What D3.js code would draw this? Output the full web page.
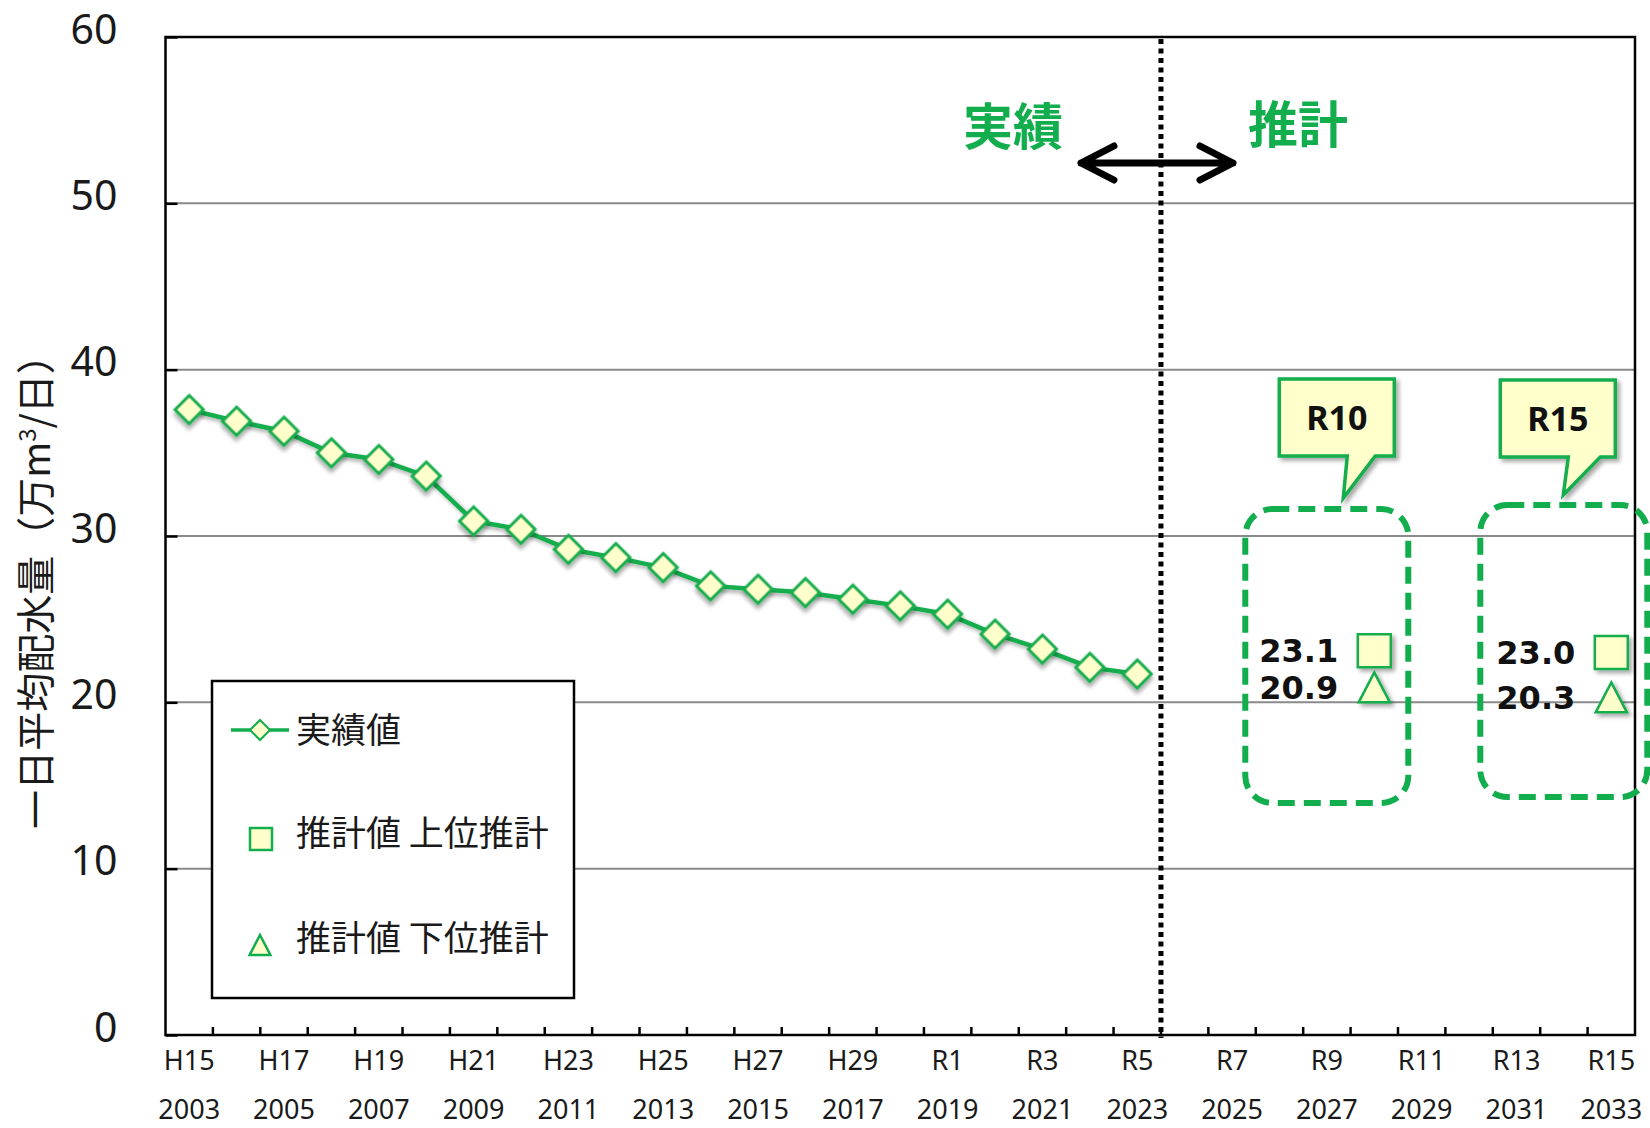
<!DOCTYPE html>
<html><head><meta charset="utf-8">
<script src="https://cdn.jsdelivr.net/npm/d3@7"></script>
<style>body{margin:0;background:#fff;} svg{display:block;}</style>
</head><body>
<svg id="chart" width="1650" height="1128"></svg>
<script>
// ---------- data ----------
const years = [2003,2004,2005,2006,2007,2008,2009,2010,2011,2012,2013,2014,2015,2016,2017,2018,2019,2020,2021,2022,2023,2024,2025,2026,2027,2028,2029,2030,2031,2032,2033];
const actualYears = [2003,2004,2005,2006,2007,2008,2009,2010,2011,2012,2013,2014,2015,2016,2017,2018,2019,2020,2021,2022,2023];
const actualValues = [37.6,36.9,36.3,35.0,34.6,33.6,30.9,30.4,29.2,28.7,28.1,27.0,26.8,26.6,26.2,25.8,25.3,24.1,23.2,22.1,21.7];
const forecastYears = [2028, 2033];
const forecastNames = ["R10", "R15"];
const upperValues = [23.1, 23.0];
const lowerValues = [20.9, 20.3];
const upperLabels = ["23.1", "23.0"];
const lowerLabels = ["20.9", "20.3"];
const labelYears = [2003,2005,2007,2009,2011,2013,2015,2017,2019,2021,2023,2025,2027,2029,2031,2033];
const eraLabels = ["H15","H17","H19","H21","H23","H25","H27","H29","R1","R3","R5","R7","R9","R11","R13","R15"];
const yTicks = [0,10,20,30,40,50,60];
const gridTicks = [10,20,30,40,50];
const legendItems = ["実績値", "推計値 上位推計", "推計値 下位推計"];

// ---------- layout ----------
const GREEN = "#12AD4D", FILL = "#FFFFCC";
const M = {left:165.5, right:1635, top:37, bottom:1035};
const svg = d3.select("#chart");
const x = d3.scaleBand().domain(years).range([M.left, M.right]);
const y = d3.scaleLinear().domain([0,60]).range([M.bottom, M.top]);
const xc = d => x(d) + x.bandwidth()/2;

const defs = svg.append("defs");
const f = defs.append("filter").attr("id","sh").attr("x","-30%").attr("y","-30%").attr("width","170%").attr("height","170%");
f.append("feDropShadow").attr("dx",3).attr("dy",3).attr("stdDeviation",2.2).attr("flood-color","#000").attr("flood-opacity",0.35);

// gridlines
svg.append("g").selectAll("line").data(gridTicks).join("line")
  .attr("x1", M.left).attr("x2", M.right)
  .attr("y1", d=>y(d)).attr("y2", d=>y(d))
  .attr("stroke","#8a8a8a").attr("stroke-width",2);

// y axis
const ya = svg.append("g").attr("transform",`translate(${M.left},0)`)
  .call(d3.axisLeft(y).tickValues(yTicks).tickSize(-12).tickPadding(48));
ya.select(".domain").remove();
ya.selectAll("line").attr("stroke","#000").attr("stroke-width",2.5);
ya.selectAll("text").attr("font-family","'Noto Sans', sans-serif").attr("font-size",41)
  .attr("fill","#1a1a1a").attr("dy","0.15em");

// plot border
svg.append("rect").attr("x",M.left).attr("y",M.top)
  .attr("width",M.right-M.left).attr("height",M.bottom-M.top)
  .attr("fill","none").attr("stroke","#000").attr("stroke-width",2.5);

// x ticks
svg.append("g").selectAll("line").data(years.slice(1)).join("line")
  .attr("x1",d=>x(d)).attr("x2",d=>x(d))
  .attr("y1",M.bottom).attr("y2",M.bottom-8)
  .attr("stroke","#000").attr("stroke-width",2.5);

// x labels
const xl = svg.append("g").attr("font-family","'Noto Sans', sans-serif").attr("font-size",27)
  .attr("fill","#1a1a1a").attr("text-anchor","middle");
xl.selectAll("text.era").data(labelYears).join("text").attr("class","era")
  .attr("x",d=>xc(d)).attr("y",1070).text((d,i)=>eraLabels[i]);
xl.selectAll("text.yr").data(labelYears).join("text").attr("class","yr")
  .attr("x",d=>xc(d)).attr("y",1119).text(d=>d);

// y axis title
const yt = svg.append("text").attr("transform","translate(36,582) rotate(-90)")
  .attr("text-anchor","middle").attr("dy","0.35em")
  .attr("font-family","'Noto Sans CJK JP', sans-serif").attr("font-size",39).attr("fill","#1a1a1a");
yt.append("tspan").text("一日平均配水量（万m");
yt.append("tspan").attr("font-size",24).attr("dy",-14).text("3");
yt.append("tspan").attr("dy",14).text("/日）");

// divider
svg.append("line").attr("x1",x(2024)).attr("x2",x(2024))
  .attr("y1",M.top+2).attr("y2",M.bottom+3)
  .attr("stroke","#000").attr("stroke-width",5).attr("stroke-dasharray","5,4.5");

// 実績 / 推計 headers and arrow
const hd = svg.append("g").attr("font-family","'Noto Sans CJK JP', sans-serif").attr("font-weight",700)
  .attr("font-size",50).attr("fill",GREEN).attr("text-anchor","middle");
hd.append("text").attr("x",x(2024)-148).attr("y",145).text("実績");
hd.append("text").attr("x",x(2024)+137).attr("y",143).text("推計");
const ax0 = x(2024)-80, ax1 = x(2024)+72, ay = 163;
svg.append("path")
  .attr("d",`M${ax0},${ay}L${ax1},${ay}M${ax0+33},${ay-17}L${ax0},${ay}L${ax0+33},${ay+17}M${ax1-33},${ay-17}L${ax1},${ay}L${ax1-33},${ay+17}`)
  .attr("fill","none").attr("stroke","#000").attr("stroke-width",7)
  .attr("stroke-linecap","round").attr("stroke-linejoin","round");

// dashed rounded boxes
const boxCfg = [{l:-129,r:34,t:509,b:803},{l:-131,r:36,t:505,b:797}];
svg.append("g").selectAll("rect").data(forecastYears).join("rect")
  .attr("x",(d,i)=>xc(d)+boxCfg[i].l).attr("y",(d,i)=>boxCfg[i].t)
  .attr("width",(d,i)=>boxCfg[i].r-boxCfg[i].l).attr("height",(d,i)=>boxCfg[i].b-boxCfg[i].t)
  .attr("rx",27).attr("fill","none").attr("stroke",GREEN).attr("stroke-width",6)
  .attr("stroke-dasharray","17,9");

// callouts
const coCfg = [{l:-95,r:20,t:379,b:456,b0:-27,b1:1,tip:-31,tipY:498},
               {l:-111,r:4,t:380,b:457,b0:-43,b1:-11,tip:-48,tipY:495}];
const co = svg.append("g").selectAll("g").data(forecastYears).join("g");
co.append("path").attr("d",(d,i)=>{
    const c = coCfg[i], X = xc(d);
    return `M${X+c.l},${c.t}L${X+c.r},${c.t}L${X+c.r},${c.b}L${X+c.b1},${c.b}L${X+c.tip},${c.tipY}L${X+c.b0},${c.b}L${X+c.l},${c.b}Z`;
  }).attr("fill",FILL).attr("stroke",GREEN).attr("stroke-width",3.5).attr("stroke-linejoin","miter")
  .attr("filter","url(#sh)");
co.append("text").attr("x",(d,i)=>xc(d)+(coCfg[i].l+coCfg[i].r)/2).attr("y",(d,i)=>(coCfg[i].t+coCfg[i].b)/2)
  .attr("dy","0.36em").attr("text-anchor","middle")
  .attr("font-family","'Noto Sans', sans-serif").attr("font-weight",700).attr("font-size",34)
  .attr("fill","#111").text((d,i)=>forecastNames[i]);

// actual line
const actual = actualYears.map((yr,i)=>({year:yr, value:actualValues[i]}));
svg.append("path").datum(actual)
  .attr("d", d3.line().x(d=>xc(d.year)).y(d=>y(d.value)))
  .attr("fill","none").attr("stroke",GREEN).attr("stroke-width",4.5).attr("filter","url(#sh)");
svg.append("g").selectAll("path").data(actual).join("path")
  .attr("d", d3.symbol(d3.symbolSquare, 392))
  .attr("transform", d=>`translate(${xc(d.year)},${y(d.value)}) rotate(45)`)
  .attr("fill",FILL).attr("stroke",GREEN).attr("stroke-width",3).attr("filter","url(#sh)");

// forecast markers
const tri = s => `M0,${-s/2}L${s*0.52},${s/2}L${-s*0.52},${s/2}Z`;
svg.append("g").selectAll("path").data(forecastYears).join("path")
  .attr("d", d3.symbol(d3.symbolSquare, 33*33))
  .attr("transform",(d,i)=>`translate(${xc(d)},${y(upperValues[i])})`)
  .attr("fill",FILL).attr("stroke",GREEN).attr("stroke-width",2.5).attr("filter","url(#sh)");
svg.append("g").selectAll("path").data(forecastYears).join("path")
  .attr("d", tri(30))
  .attr("transform",(d,i)=>`translate(${xc(d)},${y(lowerValues[i])})`)
  .attr("fill",FILL).attr("stroke",GREEN).attr("stroke-width",2.5).attr("filter","url(#sh)");

const fl = svg.append("g").attr("font-family","'DejaVu Sans', sans-serif").attr("font-weight",700)
  .attr("font-size",32).attr("fill","#111").attr("text-anchor","end");
fl.selectAll("text.u").data(forecastYears).join("text").attr("class","u")
  .attr("x",d=>xc(d)-36).attr("y",(d,i)=>y(upperValues[i])).attr("dy","0.36em").text((d,i)=>upperLabels[i]);
fl.selectAll("text.l").data(forecastYears).join("text").attr("class","l")
  .attr("x",d=>xc(d)-36).attr("y",(d,i)=>y(lowerValues[i])).attr("dy","0.36em").text((d,i)=>lowerLabels[i]);

// legend
const lg = svg.append("g");
lg.append("rect").attr("x",212).attr("y",681).attr("width",362).attr("height",317)
  .attr("fill","#fff").attr("stroke","#000").attr("stroke-width",2.5);
const rowY = [730, 833, 938];
lg.append("line").attr("x1",231).attr("x2",289).attr("y1",rowY[0]).attr("y2",rowY[0])
  .attr("stroke",GREEN).attr("stroke-width",3.5);
lg.append("path").attr("d",d3.symbol(d3.symbolSquare,200)).attr("transform",`translate(260,${rowY[0]}) rotate(45)`)
  .attr("fill",FILL).attr("stroke",GREEN).attr("stroke-width",2);
lg.append("path").attr("d",d3.symbol(d3.symbolSquare,22*22)).attr("transform",`translate(261,${rowY[1]+6})`)
  .attr("fill",FILL).attr("stroke",GREEN).attr("stroke-width",2.5);
lg.append("path").attr("d",tri(20)).attr("transform",`translate(260,${rowY[2]+7})`)
  .attr("fill",FILL).attr("stroke",GREEN).attr("stroke-width",2.5);
lg.selectAll("text").data(legendItems).join("text")
  .attr("x",296).attr("y",(d,i)=>rowY[i]).attr("dy","0.36em")
  .attr("font-family","'Noto Sans CJK JP', sans-serif").attr("font-size",35).attr("fill","#1a1a1a")
  .text(d=>d);
</script>
</body></html>
